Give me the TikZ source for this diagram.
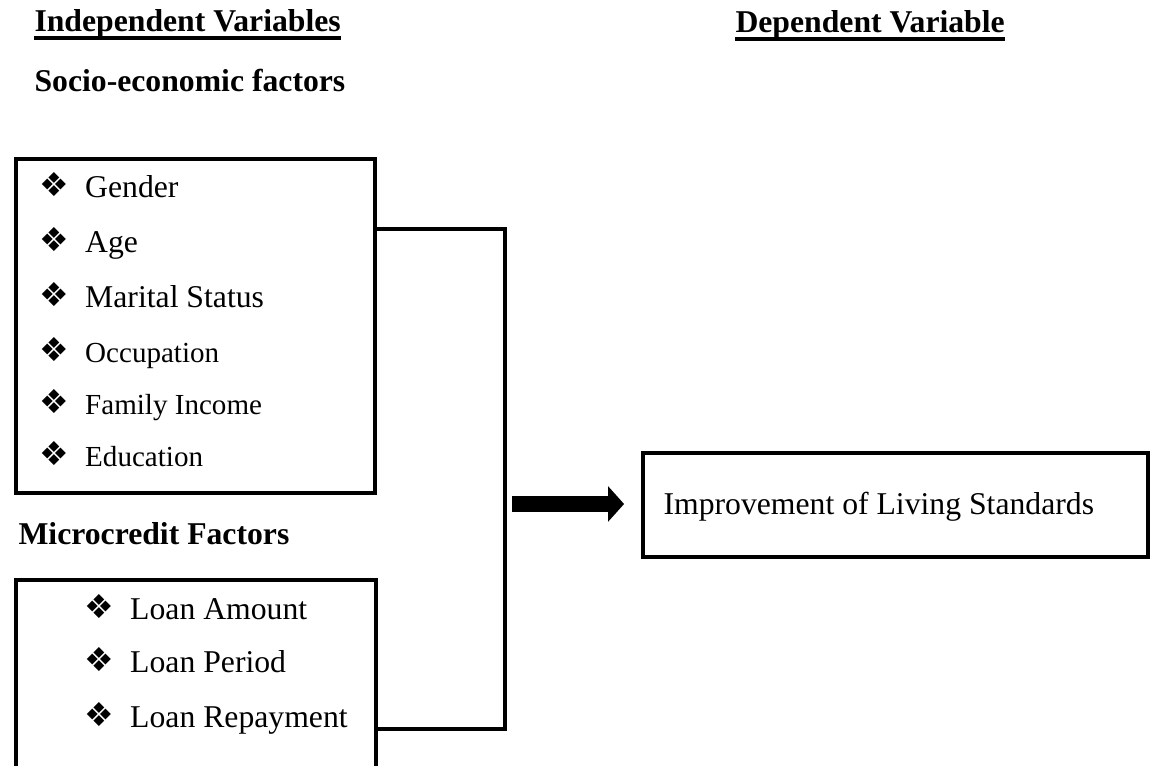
\documentclass[tikz,border=0pt]{standalone}
\usepackage{fontspec}
\setmainfont{Liberation Serif}
\newfontfamily\dingfont{DejaVu Sans}
\usetikzlibrary{positioning,arrows.meta}
\newcommand{\dia}{{\dingfont\fontsize{12.5}{12}\selectfont\raisebox{0.6pt}{❖}}}
\newcommand{\itm}[2]{\makebox[#1][l]{\dia}#2}

\tikzset{
  frame/.style={draw, line width=1.5pt, inner sep=0pt, anchor=north west},
  head/.style={font=\fontsize{12}{14}\selectfont\bfseries, inner sep=0pt, anchor=base west},
  item/.style={font=\fontsize{12}{14}\selectfont, inner sep=0pt, anchor=base west},
  smallitem/.style={font=\fontsize{11}{13}\selectfont, inner sep=0pt, anchor=base west},
  link/.style={line width=1.5pt},
  uline/.style={line width=1.4pt},
}

\begin{document}
\begin{tikzpicture}[x=0.3785pt, y=-0.3785pt]
    \useasboundingbox (0,0) rectangle (1152,766);
    \clip (0,0) rectangle (1152,766);
    %% headings
    \node[head] (indep) at (34,32) {Independent Variables};
    \draw[uline] ([yshift=-2.3pt]indep.base west) -- ([yshift=-2.3pt]indep.base east);
    \node[head] (dep) at (735,33) {Dependent Variable};
    \draw[uline] ([yshift=-2.3pt]dep.base west) -- ([yshift=-2.3pt]dep.base east);
    \node[head] (sociohead) at (34,92) {Socio-economic factors};
    \node[head] (microhead) at (18,545) {Microcredit Factors};
    %% boxes
    \node[frame, minimum width=135.8pt, minimum height=126.4pt] (socio) at (14,157) {};
    \node[frame, minimum width=136.2pt, minimum height=91pt] (micro) at (14,578) {};
    \node[frame, minimum width=191.3pt, minimum height=39.4pt] (goal) at (641,451) {};
    %% socio-economic items
    \node[item] (gender) at (39,198) {\itm{17.3pt}{Gender}};
    \node[item] (age) at (39,253) {\itm{17.3pt}{Age}};
    \node[item] (marital) at (39,308) {\itm{17.3pt}{Marital Status}};
    \node[smallitem] (occup) at (39,363) {\itm{17.3pt}{Occupation}};
    \node[smallitem] (income) at (39,415) {\itm{17.3pt}{Family Income}};
    \node[smallitem] (educ) at (39,467) {\itm{17.3pt}{Education}};
    %% microcredit items
    \node[item] (amount) at (84,620) {\itm{17.3pt}{Loan Amount}};
    \node[item] (period) at (84,673) {\itm{17.3pt}{Loan Period}};
    \node[item] (repay) at (84,728) {\itm{17.3pt}{Loan Repayment}};
    %% outcome
    \node[item] (living) at (663,515) {Improvement of Living Standards};
    %% bracket
    \coordinate (bartop) at (505,229);
    \coordinate (barbot) at (505,729);
    \draw[link] (socio.east |- bartop) -- (bartop) -- (barbot) -- (micro.east |- barbot);
    %% arrow
    \coordinate (fork) at (512,504);
    \draw[line width=6pt, -{Triangle[length=6pt,width=13pt]}, shorten >=6.4pt]
      (fork) -- (fork -| goal.west);
\end{tikzpicture}
\end{document}
